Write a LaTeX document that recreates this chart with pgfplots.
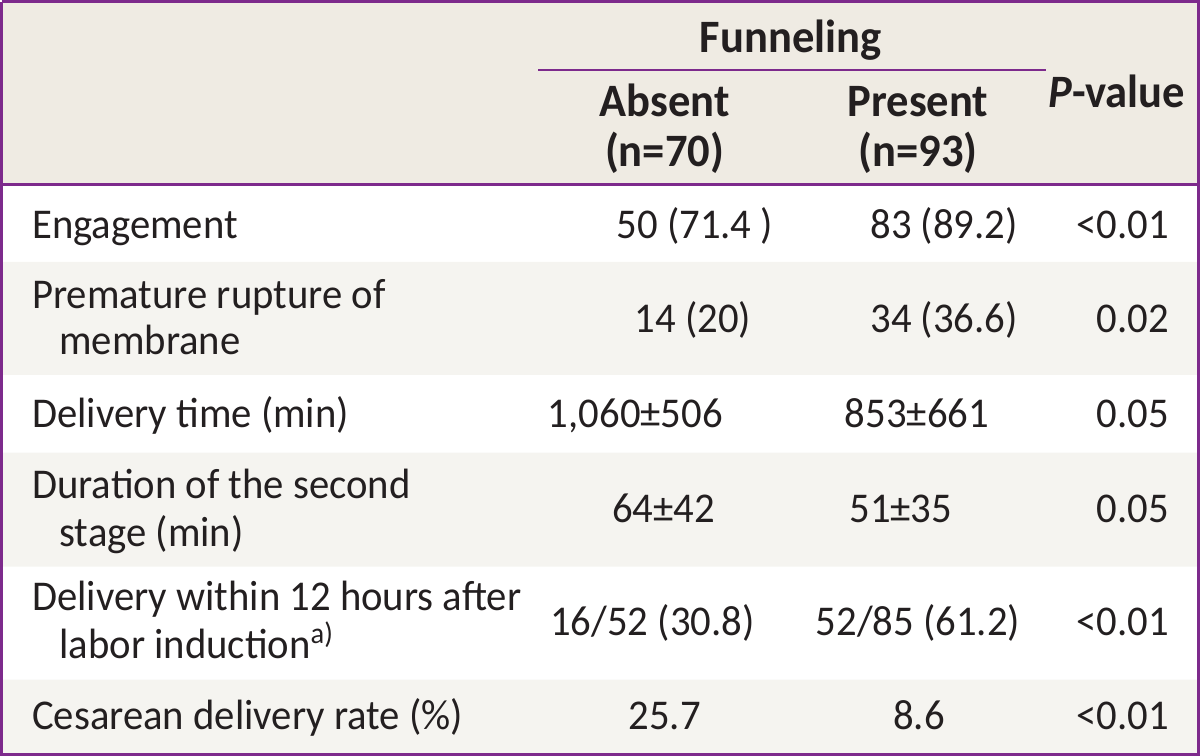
\documentclass[border=0pt]{standalone}
\usepackage{pgfplots}
\pgfplotsset{compat=1.18}
\usepackage{fontspec}
\setmainfont{Carlito}[FakeStretch=0.96]
\definecolor{hdr}{HTML}{EFEBE3}
\definecolor{shade}{HTML}{F5F4F0}
\definecolor{brd}{HTML}{7D2A8C}
\definecolor{txt}{HTML}{231F20}
\newcommand{\body}{\fontsize{21bp}{24bp}\selectfont}
\newcommand{\head}{\fontsize{23bp}{26bp}\selectfont\bfseries}
\begin{document}
\begin{tikzpicture}
\begin{axis}[
  scale only axis, width=600bp, height=378.5bp,
  xmin=0, xmax=1200, ymin=0, ymax=757, y dir=reverse,
  hide axis, clip=false,
]
% backgrounds
\addplot[fill=hdr, draw=none] coordinates {(5,5) (1191,5) (1191,186) (5,186) (5,5)};
\addplot[fill=shade, draw=none] coordinates {(5,263) (1191,263) (1191,375) (5,375) (5,263)};
\addplot[fill=shade, draw=none] coordinates {(5,452) (1191,452) (1191,565) (5,565) (5,452)};
\addplot[fill=shade, draw=none] coordinates {(5,677) (1191,677) (1191,751) (5,751) (5,677)};
% lines
\addplot[draw=brd, line width=1.5bp] coordinates {(5,5) (1191,5) (1191,751) (5,751) (5,5)};
\addplot[draw=brd, line width=1.5bp] coordinates {(5,186) (1191,186)};
\addplot[draw=brd, line width=1bp] coordinates {(537,73) (1040,73)};
% header
\node[anchor=base, text=txt] at (axis cs:787,56) {\head Funneling};
\node[anchor=base, text=txt] at (axis cs:662,119) {\head Absent};
\node[anchor=base, text=txt] at (axis cs:662,168) {\head (n=70)};
\node[anchor=base, text=txt] at (axis cs:913,119) {\head Present};
\node[anchor=base, text=txt] at (axis cs:913,168) {\head (n=93)};
\node[anchor=base, text=txt] at (axis cs:1110,110) {\head \textit{P}-value};
% row labels
\node[anchor=base west, text=txt, inner sep=0pt] at (axis cs:35,240) {\body Engagement};
\node[anchor=base west, text=txt, inner sep=0pt] at (axis cs:35,309) {\body Premature rupture of};
\node[anchor=base west, text=txt, inner sep=0pt] at (axis cs:62,355) {\body membrane};
\node[anchor=base west, text=txt, inner sep=0pt] at (axis cs:35,427) {\body Delivery time (min)};
\node[anchor=base west, text=txt, inner sep=0pt] at (axis cs:35,497) {\body Duration of the second};
\node[anchor=base west, text=txt, inner sep=0pt] at (axis cs:62,545) {\body stage (min)};
\node[anchor=base west, text=txt, inner sep=0pt] at (axis cs:35,608) {\body Delivery within 12 hours after};
\node[anchor=base west, text=txt, inner sep=0pt] at (axis cs:62,656) {\body labor induction\textsuperscript{a)}};
\node[anchor=base west, text=txt, inner sep=0pt] at (axis cs:35,726) {\body Cesarean delivery rate (\%)};
% absent column
\node[anchor=base, text=txt, inner sep=0pt] at (axis cs:692,240) {\body 50 (71.4 )};
\node[anchor=base, text=txt, inner sep=0pt] at (axis cs:690,333) {\body 14 (20)};
\node[anchor=base, text=txt, inner sep=0pt] at (axis cs:633,427) {\body 1,060±506};
\node[anchor=base, text=txt, inner sep=0pt] at (axis cs:661,521) {\body 64±42};
\node[anchor=base, text=txt, inner sep=0pt] at (axis cs:650,633) {\body 16/52 (30.8)};
\node[anchor=base, text=txt, inner sep=0pt] at (axis cs:662,726) {\body 25.7};
% present column
\node[anchor=base, text=txt, inner sep=0pt] at (axis cs:939,240) {\body 83 (89.2)};
\node[anchor=base, text=txt, inner sep=0pt] at (axis cs:939,333) {\body 34 (36.6)};
\node[anchor=base, text=txt, inner sep=0pt] at (axis cs:912,427) {\body 853±661};
\node[anchor=base, text=txt, inner sep=0pt] at (axis cs:896,521) {\body 51±35};
\node[anchor=base, text=txt, inner sep=0pt] at (axis cs:913,633) {\body 52/85 (61.2)};
\node[anchor=base, text=txt, inner sep=0pt] at (axis cs:914,726) {\body 8.6};
% p-values
\node[anchor=base east, text=txt, inner sep=0pt] at (axis cs:1162,240) {\body <0.01};
\node[anchor=base east, text=txt, inner sep=0pt] at (axis cs:1162,333) {\body 0.02};
\node[anchor=base east, text=txt, inner sep=0pt] at (axis cs:1162,427) {\body 0.05};
\node[anchor=base east, text=txt, inner sep=0pt] at (axis cs:1162,521) {\body 0.05};
\node[anchor=base east, text=txt, inner sep=0pt] at (axis cs:1162,633) {\body <0.01};
\node[anchor=base east, text=txt, inner sep=0pt] at (axis cs:1162,726) {\body <0.01};
\end{axis}
\end{tikzpicture}
\end{document}
